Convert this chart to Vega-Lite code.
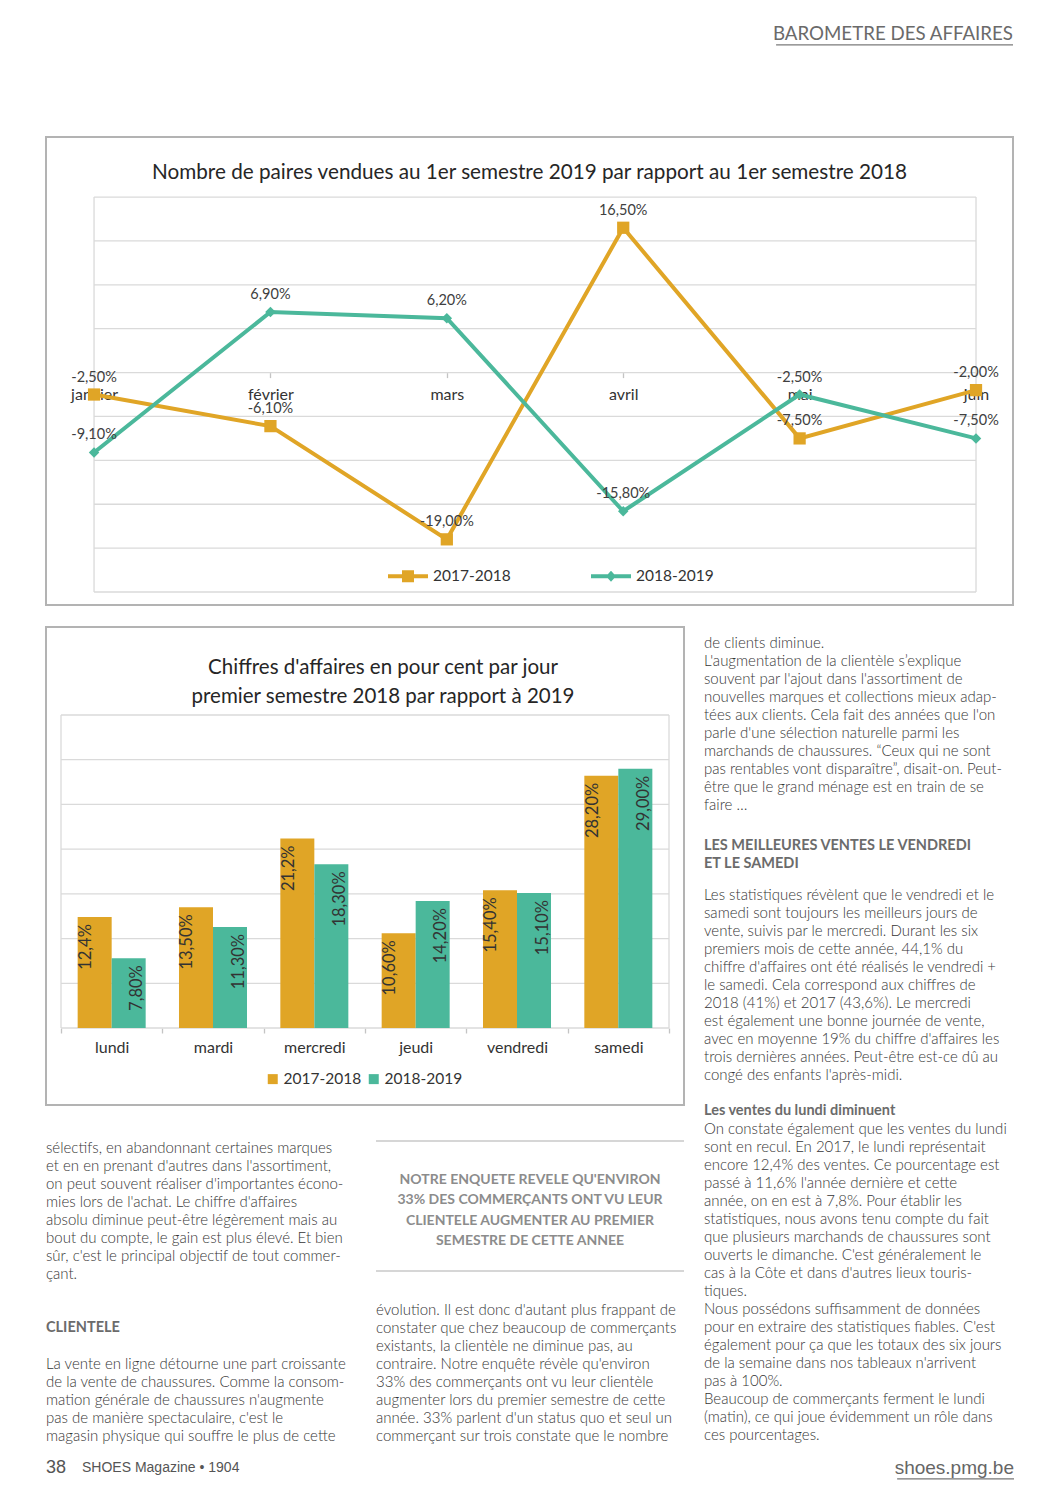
{
  "$schema": "https://vega.github.io/schema/vega-lite/v6.json",
  "background": "white",
  "padding": {"left": 45, "top": 0, "right": 0, "bottom": 0},
  "config": {"font": "Lato", "view": {"stroke": null}},
  "datasets": {
    "paires": [
      {"mois": "janvier", "serie": "2017-2018", "valeur": -2.5, "label": "-2,50%"},
      {"mois": "février", "serie": "2017-2018", "valeur": -6.1, "label": "-6,10%"},
      {"mois": "mars", "serie": "2017-2018", "valeur": -19.0, "label": "-19,00%"},
      {"mois": "avril", "serie": "2017-2018", "valeur": 16.5, "label": "16,50%"},
      {"mois": "mai", "serie": "2017-2018", "valeur": -7.5, "label": "-7,50%"},
      {"mois": "juin", "serie": "2017-2018", "valeur": -2.0, "label": "-2,00%"},
      {"mois": "janvier", "serie": "2018-2019", "valeur": -9.1, "label": "-9,10%"},
      {"mois": "février", "serie": "2018-2019", "valeur": 6.9, "label": "6,90%"},
      {"mois": "mars", "serie": "2018-2019", "valeur": 6.2, "label": "6,20%"},
      {"mois": "avril", "serie": "2018-2019", "valeur": -15.8, "label": "-15,80%"},
      {"mois": "mai", "serie": "2018-2019", "valeur": -2.5, "label": "-2,50%"},
      {"mois": "juin", "serie": "2018-2019", "valeur": -7.5, "label": "-7,50%"}
    ],
    "ventes": [
      {"jour": "lundi", "serie": "2017-2018", "valeur": 12.4, "label": "12,4%"},
      {"jour": "lundi", "serie": "2018-2019", "valeur": 7.8, "label": "7,80%"},
      {"jour": "mardi", "serie": "2017-2018", "valeur": 13.5, "label": "13,50%"},
      {"jour": "mardi", "serie": "2018-2019", "valeur": 11.3, "label": "11,30%"},
      {"jour": "mercredi", "serie": "2017-2018", "valeur": 21.2, "label": "21,2%"},
      {"jour": "mercredi", "serie": "2018-2019", "valeur": 18.3, "label": "18,30%"},
      {"jour": "jeudi", "serie": "2017-2018", "valeur": 10.6, "label": "10,60%"},
      {"jour": "jeudi", "serie": "2018-2019", "valeur": 14.2, "label": "14,20%"},
      {"jour": "vendredi", "serie": "2017-2018", "valeur": 15.4, "label": "15,40%"},
      {"jour": "vendredi", "serie": "2018-2019", "valeur": 15.1, "label": "15,10%"},
      {"jour": "samedi", "serie": "2017-2018", "valeur": 28.2, "label": "28,20%"},
      {"jour": "samedi", "serie": "2018-2019", "valeur": 29.0, "label": "29,00%"}
    ]
  },
  "spacing": 22,
  "bounds": "flush",
  "resolve": {"scale": {"color": "independent", "fill": "independent", "shape": "independent"}, "legend": {"color": "independent", "fill": "independent", "shape": "independent"}},
  "vconcat": [
    {
      "width": 967,
      "height": 115,
      "data": {"values": [{"texte": "BAROMETRE DES AFFAIRES"}]},
      "layer": [
        {
          "mark": {"type": "text", "align": "right", "baseline": "middle", "fontSize": 18.7, "color": "#6a6a6a"},
          "encoding": {
            "x": {"datum": 1, "type": "quantitative", "scale": {"domain": [0, 1]}, "axis": null},
            "y": {"datum": 0.296, "type": "quantitative", "scale": {"domain": [0, 1], "reverse": true}, "axis": null},
            "text": {"field": "texte"}
          }
        },
        {
          "mark": {"type": "rule", "color": "#7a7a7a", "strokeWidth": 1.2},
          "encoding": {
            "x": {"datum": 0.755, "type": "quantitative", "scale": {"domain": [0, 1]}, "axis": null},
            "x2": {"datum": 1},
            "y": {"datum": 0.39, "type": "quantitative", "scale": {"domain": [0, 1], "reverse": true}, "axis": null}
          }
        }
      ]
    },
    {
      "width": 967,
      "height": 468,
      "view": {"stroke": "#b3b3b3", "strokeWidth": 2},
      "title": {"text": "Nombre de paires vendues au 1er semestre 2019 par rapport au 1er semestre 2018", "fontSize": 20.7, "fontWeight": "normal", "color": "#262626", "anchor": "middle", "frame": "group", "offset": -47},
      "layer": [
        {
          "data": {"values": [{"g": 20}, {"g": 15}, {"g": 10}, {"g": 5}, {"g": 0}, {"g": -5}, {"g": -10}, {"g": -15}, {"g": -20}, {"g": -25}]},
          "mark": {"type": "rule", "color": "#dadada", "strokeWidth": 1.3},
          "encoding": {
            "x": {"datum": "janvier", "type": "nominal", "scale": {"type": "point", "domain": ["janvier", "février", "mars", "avril", "mai", "juin"], "padding": 0.241, "align": 0.565}},
            "x2": {"datum": "juin"},
            "y": {"field": "g", "type": "quantitative", "scale": {"domain": [-26.48, 26.84], "nice": false, "zero": false}, "axis": null}
          }
        },
        {
          "data": {"values": [{"mois": "janvier"}, {"mois": "juin"}]},
          "mark": {"type": "rule", "color": "#dadada", "strokeWidth": 1.3},
          "encoding": {
            "x": {"field": "mois", "type": "nominal", "scale": {"type": "point", "domain": ["janvier", "février", "mars", "avril", "mai", "juin"], "padding": 0.241, "align": 0.565}},
            "y": {"datum": -25, "type": "quantitative", "scale": {"domain": [-26.48, 26.84], "nice": false, "zero": false}, "axis": null},
            "y2": {"datum": 20}
          }
        },
        {
          "data": {"name": "paires"},
          "transform": [{"filter": "datum.serie == '2017-2018'"}],
          "mark": {"type": "line", "strokeWidth": 4, "color": "#E0A526"},
          "encoding": {
            "x": {"field": "mois", "type": "nominal", "scale": {"type": "point", "domain": ["janvier", "février", "mars", "avril", "mai", "juin"], "padding": 0.241, "align": 0.565},
                  "axis": {"orient": "bottom", "offset": -232.4, "domain": false, "ticks": true, "tickSize": 5, "tickColor": "#c4c4c4", "tickWidth": 1.3, "labelFontSize": 16, "labelColor": "#333333", "labelPadding": 9, "labelAlign": "center", "labelBaseline": "top", "labelAngle": 0, "title": null, "grid": false}},
            "y": {"field": "valeur", "type": "quantitative", "scale": {"domain": [-26.48, 26.84], "nice": false, "zero": false}, "axis": null},
            "order": {"value": null}
          }
        },
        {
          "data": {"name": "paires"},
          "transform": [{"filter": "datum.serie == '2018-2019'"}],
          "mark": {"type": "line", "strokeWidth": 4, "color": "#4BB89B"},
          "encoding": {
            "x": {"field": "mois", "type": "nominal", "scale": {"type": "point", "domain": ["janvier", "février", "mars", "avril", "mai", "juin"], "padding": 0.241, "align": 0.565}},
            "y": {"field": "valeur", "type": "quantitative", "scale": {"domain": [-26.48, 26.84], "nice": false, "zero": false}, "axis": null},
            "order": {"value": null}
          }
        },
        {
          "data": {"name": "paires"},
          "transform": [{"filter": "datum.serie == '2017-2018'"}],
          "mark": {"type": "point", "shape": "square", "filled": true, "size": 150, "opacity": 1, "color": "#E0A526"},
          "encoding": {
            "x": {"field": "mois", "type": "nominal", "scale": {"type": "point", "domain": ["janvier", "février", "mars", "avril", "mai", "juin"], "padding": 0.241, "align": 0.565}},
            "y": {"field": "valeur", "type": "quantitative", "scale": {"domain": [-26.48, 26.84], "nice": false, "zero": false}, "axis": null}
          }
        },
        {
          "data": {"name": "paires"},
          "transform": [{"filter": "datum.serie == '2018-2019'"}],
          "mark": {"type": "point", "shape": "diamond", "filled": true, "size": 110, "opacity": 1, "color": "#4BB89B"},
          "encoding": {
            "x": {"field": "mois", "type": "nominal", "scale": {"type": "point", "domain": ["janvier", "février", "mars", "avril", "mai", "juin"], "padding": 0.241, "align": 0.565}},
            "y": {"field": "valeur", "type": "quantitative", "scale": {"domain": [-26.48, 26.84], "nice": false, "zero": false}, "axis": null}
          }
        },
        {
          "data": {"name": "paires"},
          "mark": {"type": "text", "dy": -17, "fontSize": 14.5, "color": "#404040"},
          "encoding": {
            "x": {"field": "mois", "type": "nominal", "scale": {"type": "point", "domain": ["janvier", "février", "mars", "avril", "mai", "juin"], "padding": 0.241, "align": 0.565}},
            "y": {"field": "valeur", "type": "quantitative", "scale": {"domain": [-26.48, 26.84], "nice": false, "zero": false}, "axis": null},
            "text": {"field": "label"}
          }
        },
        {
          "data": {"name": "paires"},
          "transform": [{"filter": "false"}],
          "mark": {"type": "point", "filled": true, "opacity": 1},
          "encoding": {
            "x": {"field": "mois", "type": "nominal", "scale": {"type": "point", "domain": ["janvier", "février", "mars", "avril", "mai", "juin"], "padding": 0.241, "align": 0.565}},
            "y": {"field": "valeur", "type": "quantitative", "scale": {"domain": [-26.48, 26.84], "nice": false, "zero": false}, "axis": null},
            "fill": {"field": "serie", "type": "nominal", "scale": {"domain": ["2017-2018", "2018-2019"], "range": ["#E0A526", "#4BB89B"]},
                     "legend": {"title": null, "orient": "none", "legendX": 342, "legendY": 419, "direction": "horizontal", "columns": 2, "columnPadding": 80, "symbolSize": 1600, "labelFontSize": 15.5, "labelColor": "#333333", "symbolStrokeWidth": 0, "labelOffset": 5}},
            "shape": {"field": "serie", "type": "nominal", "scale": {"domain": ["2017-2018", "2018-2019"], "range": ["M-1,-0.1L1,-0.1L1,0.1L-1,0.1Z M-0.3,-0.3L0.3,-0.3L0.3,0.3L-0.3,0.3Z", "M-1,-0.1L1,-0.1L1,0.1L-1,0.1Z M0,-0.28L0.25,0L0,0.28L-0.25,0Z"]},
                      "legend": {"title": null, "orient": "none", "legendX": 342, "legendY": 419, "direction": "horizontal", "columns": 2, "columnPadding": 80, "symbolSize": 1600, "labelFontSize": 15.5, "labelColor": "#333333", "symbolStrokeWidth": 0, "labelOffset": 5}}
          }
        }
      ]
    },
    {
      "spacing": 19,
      "resolve": {"scale": {"color": "independent"}, "legend": {"color": "independent"}},
      "hconcat": [
        {
          "spacing": 20,
          "bounds": "flush",
          "resolve": {"scale": {"color": "independent"}, "legend": {"color": "independent"}},
          "vconcat": [
            {
              "width": 638,
              "height": 478,
              "view": {"stroke": "#b3b3b3", "strokeWidth": 2},
              "title": {"text": ["Chiffres d'affaires en pour cent par jour", "premier semestre 2018 par rapport à 2019"], "fontSize": 20.5, "lineHeight": 29, "fontWeight": "normal", "color": "#262626", "anchor": "middle", "frame": "group", "offset": -80, "dx": 18},
              "resolve": {"scale": {"x": "independent", "xOffset": "independent"}},
              "layer": [
                {
                  "data": {"values": [{"g": 0}, {"g": 5}, {"g": 10}, {"g": 15}, {"g": 20}, {"g": 25}, {"g": 30}, {"g": 35}]},
                  "mark": {"type": "rule", "color": "#dadada", "strokeWidth": 1.3},
                  "encoding": {
                    "x": {"datum": 0, "type": "quantitative", "scale": {"domain": [-0.02467, 1.02467], "nice": false, "zero": false}, "axis": null},
                    "x2": {"datum": 1},
                    "y": {"field": "g", "type": "quantitative", "scale": {"domain": [-8.61, 44.84], "nice": false, "zero": false}, "axis": null}
                  }
                },
                {
                  "data": {"values": [{"c": 0}, {"c": 1}]},
                  "mark": {"type": "rule", "color": "#dadada", "strokeWidth": 1.3},
                  "encoding": {
                    "x": {"field": "c", "type": "quantitative", "scale": {"domain": [-0.02467, 1.02467], "nice": false, "zero": false}, "axis": null},
                    "y": {"datum": 0, "type": "quantitative", "scale": {"domain": [-8.61, 44.84], "nice": false, "zero": false}, "axis": null},
                    "y2": {"datum": 35}
                  }
                },
                {
                  "data": {"name": "ventes"},
                  "mark": {"type": "bar"},
                  "encoding": {
                    "x": {"field": "jour", "type": "nominal", "scale": {"type": "band", "domain": ["lundi", "mardi", "mercredi", "jeudi", "vendredi", "samedi"], "paddingInner": 0, "paddingOuter": 0.148},
                          "axis": {"orient": "bottom", "offset": -77, "domain": false, "tickBand": "extent", "ticks": true, "tickSize": 5, "tickColor": "#c4c4c4", "tickWidth": 1.3, "labelFontSize": 16, "labelColor": "#333333", "labelPadding": 6, "labelAlign": "center", "labelBaseline": "top", "title": null, "labelAngle": 0, "grid": false}},
                    "xOffset": {"field": "serie", "type": "nominal", "scale": {"domain": ["2017-2018", "2018-2019"], "paddingInner": 0, "paddingOuter": 0.49}},
                    "y": {"field": "valeur", "type": "quantitative", "stack": null, "scale": {"domain": [-8.61, 44.84], "nice": false, "zero": false}, "axis": null},
                    "color": {"field": "serie", "type": "nominal", "scale": {"domain": ["2017-2018", "2018-2019"], "range": ["#E0A526", "#4BB89B"]},
                              "legend": {"title": null, "orient": "none", "legendX": 219, "legendY": 444, "direction": "horizontal", "columns": 2, "columnPadding": 4, "symbolType": "square", "symbolSize": 100, "labelFontSize": 15.5, "labelColor": "#333333", "labelOffset": 3, "symbolStrokeWidth": 0}}
                  }
                },
                {
                  "data": {"name": "ventes"},
                  "mark": {"type": "text", "angle": 270, "align": "right", "baseline": "middle", "dx": -7, "fontSize": 16.5, "color": "#333333"},
                  "encoding": {
                    "x": {"field": "jour", "type": "nominal", "scale": {"type": "band", "domain": ["lundi", "mardi", "mercredi", "jeudi", "vendredi", "samedi"], "paddingInner": 0, "paddingOuter": 0.148}, "axis": null},
                    "xOffset": {"field": "serie", "type": "nominal", "scale": {"domain": ["2017-2018", "2018-2019"], "paddingInner": 0, "paddingOuter": 0.49}},
                    "y": {"field": "valeur", "type": "quantitative", "stack": null, "scale": {"domain": [-8.61, 44.84], "nice": false, "zero": false}, "axis": null},
                    "text": {"field": "label"}
                  }
                }
              ]
            },
            {
              "spacing": 20,
              "bounds": "flush",
              "hconcat": [
                {
                  "width": 310,
                  "height": 355,
                  "layer": [
                    {
                      "data": {"values": [
                        {"ligne": 0, "texte": "sélectifs, en abandonnant certaines marques"},
                        {"ligne": 1, "texte": "et en en prenant d'autres dans l'assortiment,"},
                        {"ligne": 2, "texte": "on peut souvent réaliser d'importantes écono-"},
                        {"ligne": 3, "texte": "mies lors de l'achat. Le chiffre d'affaires"},
                        {"ligne": 4, "texte": "absolu diminue peut-être légèrement mais au"},
                        {"ligne": 5, "texte": "bout du compte, le gain est plus élevé. Et bien"},
                        {"ligne": 6, "texte": "sûr, c'est le principal objectif de tout commer-"},
                        {"ligne": 7, "texte": "çant."},
                        {"ligne": 12, "texte": "La vente en ligne détourne une part croissante"},
                        {"ligne": 13, "texte": "de la vente de chaussures. Comme la consom-"},
                        {"ligne": 14, "texte": "mation générale de chaussures n'augmente"},
                        {"ligne": 15, "texte": "pas de manière spectaculaire, c'est le"},
                        {"ligne": 16, "texte": "magasin physique qui souffre le plus de cette"}
                      ]},
                      "mark": {"type": "text", "align": "left", "baseline": "middle", "fontSize": 15, "fontWeight": 300, "color": "#363636"},
                      "encoding": {
                        "x": {"datum": 0, "type": "quantitative", "scale": {"domain": [0, 1]}, "axis": null},
                        "y": {"field": "ligne", "type": "quantitative", "scale": {"domain": [-1.2778, 18.444], "reverse": true, "nice": false, "zero": false}, "axis": null},
                        "text": {"field": "texte"}
                      }
                    },
                    {
                      "data": {"values": [{"ligne": 10, "texte": "CLIENTELE"}]},
                      "mark": {"type": "text", "align": "left", "baseline": "middle", "fontSize": 14.5, "fontWeight": "bold", "color": "#6b6b6b"},
                      "encoding": {
                        "x": {"datum": 0, "type": "quantitative", "scale": {"domain": [0, 1]}, "axis": null},
                        "y": {"field": "ligne", "type": "quantitative", "scale": {"domain": [-1.2778, 18.444], "reverse": true, "nice": false, "zero": false}, "axis": null},
                        "text": {"field": "texte"}
                      }
                    },
                    {
                      "data": {"values": [{"ligne": 17.78, "texte": "38"}]},
                      "mark": {"type": "text", "align": "left", "baseline": "middle", "fontSize": 18, "font": "Liberation Sans, Arial, sans-serif", "color": "#555555"},
                      "encoding": {
                        "x": {"datum": 0, "type": "quantitative", "scale": {"domain": [0, 1]}, "axis": null},
                        "y": {"field": "ligne", "type": "quantitative", "scale": {"domain": [-1.2778, 18.444], "reverse": true, "nice": false, "zero": false}, "axis": null},
                        "text": {"field": "texte"}
                      }
                    },
                    {
                      "data": {"values": [{"ligne": 17.78, "texte": "SHOES Magazine • 1904"}]},
                      "mark": {"type": "text", "align": "left", "baseline": "middle", "dx": 36, "fontSize": 14, "font": "Liberation Sans, Arial, sans-serif", "color": "#555555"},
                      "encoding": {
                        "x": {"datum": 0, "type": "quantitative", "scale": {"domain": [0, 1]}, "axis": null},
                        "y": {"field": "ligne", "type": "quantitative", "scale": {"domain": [-1.2778, 18.444], "reverse": true, "nice": false, "zero": false}, "axis": null},
                        "text": {"field": "texte"}
                      }
                    }
                  ]
                },
                {
                  "width": 308,
                  "height": 355,
                  "layer": [
                    {
                      "data": {"values": [{"ligne": -0.39}, {"ligne": 6.83}]},
                      "mark": {"type": "rule", "color": "#c8c8c8", "strokeWidth": 1.5},
                      "encoding": {
                        "x": {"datum": 0, "type": "quantitative", "scale": {"domain": [0, 1]}, "axis": null},
                        "x2": {"datum": 1},
                        "y": {"field": "ligne", "type": "quantitative", "scale": {"domain": [-1.2778, 18.444], "reverse": true, "nice": false, "zero": false}, "axis": null}
                      }
                    },
                    {
                      "data": {"values": [
                        {"ligne": 1.78, "texte": "NOTRE ENQUETE REVELE QU'ENVIRON"},
                        {"ligne": 2.89, "texte": "33% DES COMMERÇANTS ONT VU LEUR"},
                        {"ligne": 4.06, "texte": "CLIENTELE AUGMENTER AU PREMIER"},
                        {"ligne": 5.17, "texte": "SEMESTRE DE CETTE ANNEE"}
                      ]},
                      "mark": {"type": "text", "align": "center", "baseline": "middle", "fontSize": 14, "fontWeight": "bold", "color": "#8c8c8c"},
                      "encoding": {
                        "x": {"datum": 0.5, "type": "quantitative", "scale": {"domain": [0, 1]}, "axis": null},
                        "y": {"field": "ligne", "type": "quantitative", "scale": {"domain": [-1.2778, 18.444], "reverse": true, "nice": false, "zero": false}, "axis": null},
                        "text": {"field": "texte"}
                      }
                    },
                    {
                      "data": {"values": [
                        {"ligne": 9, "texte": "évolution. Il est donc d'autant plus frappant de"},
                        {"ligne": 10, "texte": "constater que chez beaucoup de commerçants"},
                        {"ligne": 11, "texte": "existants, la clientèle ne diminue pas, au"},
                        {"ligne": 12, "texte": "contraire. Notre enquête révèle qu'environ"},
                        {"ligne": 13, "texte": "33% des commerçants ont vu leur clientèle"},
                        {"ligne": 14, "texte": "augmenter lors du premier semestre de cette"},
                        {"ligne": 15, "texte": "année. 33% parlent d'un status quo et seul un"},
                        {"ligne": 16, "texte": "commerçant sur trois constate que le nombre"}
                      ]},
                      "mark": {"type": "text", "align": "left", "baseline": "middle", "fontSize": 15, "fontWeight": 300, "color": "#363636"},
                      "encoding": {
                        "x": {"datum": 0, "type": "quantitative", "scale": {"domain": [0, 1]}, "axis": null},
                        "y": {"field": "ligne", "type": "quantitative", "scale": {"domain": [-1.2778, 18.444], "reverse": true, "nice": false, "zero": false}, "axis": null},
                        "text": {"field": "texte"}
                      }
                    }
                  ]
                }
              ]
            }
          ]
        },
        {
          "width": 310,
          "height": 853,
          "layer": [
            {
              "data": {"values": [
                {"ligne": 0, "texte": "de clients diminue."},
                {"ligne": 1, "texte": "L'augmentation de la clientèle s’explique"},
                {"ligne": 2, "texte": "souvent par l'ajout dans l'assortiment de"},
                {"ligne": 3, "texte": "nouvelles marques et collections mieux adap-"},
                {"ligne": 4, "texte": "tées aux clients. Cela fait des années que l'on"},
                {"ligne": 5, "texte": "parle d'une sélection naturelle parmi les"},
                {"ligne": 6, "texte": "marchands de chaussures. “Ceux qui ne sont"},
                {"ligne": 7, "texte": "pas rentables vont disparaître”, disait-on. Peut-"},
                {"ligne": 8, "texte": "être que le grand ménage est en train de se"},
                {"ligne": 9, "texte": "faire …"},
                {"ligne": 14, "texte": "Les statistiques révèlent que le vendredi et le"},
                {"ligne": 15, "texte": "samedi sont toujours les meilleurs jours de"},
                {"ligne": 16, "texte": "vente, suivis par le mercredi. Durant les six"},
                {"ligne": 17, "texte": "premiers mois de cette année, 44,1% du"},
                {"ligne": 18, "texte": "chiffre d'affaires ont été réalisés le vendredi +"},
                {"ligne": 19, "texte": "le samedi. Cela correspond aux chiffres de"},
                {"ligne": 20, "texte": "2018 (41%) et 2017 (43,6%). Le mercredi"},
                {"ligne": 21, "texte": "est également une bonne journée de vente,"},
                {"ligne": 22, "texte": "avec en moyenne 19% du chiffre d'affaires les"},
                {"ligne": 23, "texte": "trois dernières années. Peut-être est-ce dû au"},
                {"ligne": 24, "texte": "congé des enfants l'après-midi."},
                {"ligne": 27, "texte": "On constate également que les ventes du lundi"},
                {"ligne": 28, "texte": "sont en recul. En 2017, le lundi représentait"},
                {"ligne": 29, "texte": "encore 12,4% des ventes. Ce pourcentage est"},
                {"ligne": 30, "texte": "passé à 11,6% l'année dernière et cette"},
                {"ligne": 31, "texte": "année, on en est à 7,8%. Pour établir les"},
                {"ligne": 32, "texte": "statistiques, nous avons tenu compte du fait"},
                {"ligne": 33, "texte": "que plusieurs marchands de chaussures sont"},
                {"ligne": 34, "texte": "ouverts le dimanche. C'est généralement le"},
                {"ligne": 35, "texte": "cas à la Côte et dans d'autres lieux touris-"},
                {"ligne": 36, "texte": "tiques."},
                {"ligne": 37, "texte": "Nous possédons suffisamment de données"},
                {"ligne": 38, "texte": "pour en extraire des statistiques fiables. C'est"},
                {"ligne": 39, "texte": "également pour ça que les totaux des six jours"},
                {"ligne": 40, "texte": "de la semaine dans nos tableaux n'arrivent"},
                {"ligne": 41, "texte": "pas à 100%."},
                {"ligne": 42, "texte": "Beaucoup de commerçants ferment le lundi"},
                {"ligne": 43, "texte": "(matin), ce qui joue évidemment un rôle dans"},
                {"ligne": 44, "texte": "ces pourcentages."}
              ]},
              "mark": {"type": "text", "align": "left", "baseline": "middle", "fontSize": 15, "fontWeight": 300, "color": "#363636"},
              "encoding": {
                "x": {"datum": 0, "type": "quantitative", "scale": {"domain": [0, 1]}, "axis": null},
                "y": {"field": "ligne", "type": "quantitative", "scale": {"domain": [-0.8889, 46.5], "reverse": true, "nice": false, "zero": false}, "axis": null},
                "text": {"field": "texte"}
              }
            },
            {
              "data": {"values": [
                {"ligne": 11.3, "texte": "LES MEILLEURES VENTES LE VENDREDI"},
                {"ligne": 12.3, "texte": "ET LE SAMEDI"},
                {"ligne": 26, "texte": "Les ventes du lundi diminuent"}
              ]},
              "mark": {"type": "text", "align": "left", "baseline": "middle", "fontSize": 14.5, "fontWeight": "bold", "color": "#6b6b6b"},
              "encoding": {
                "x": {"datum": 0, "type": "quantitative", "scale": {"domain": [0, 1]}, "axis": null},
                "y": {"field": "ligne", "type": "quantitative", "scale": {"domain": [-0.8889, 46.5], "reverse": true, "nice": false, "zero": false}, "axis": null},
                "text": {"field": "texte"}
              }
            },
            {
              "data": {"values": [{"ligne": 45.83, "texte": "shoes.pmg.be"}]},
              "mark": {"type": "text", "align": "right", "baseline": "middle", "fontSize": 19, "font": "Liberation Sans Narrow, Liberation Sans, sans-serif", "color": "#666666"},
              "encoding": {
                "x": {"datum": 1, "type": "quantitative", "scale": {"domain": [0, 1]}, "axis": null},
                "y": {"field": "ligne", "type": "quantitative", "scale": {"domain": [-0.8889, 46.5], "reverse": true, "nice": false, "zero": false}, "axis": null},
                "text": {"field": "texte"}
              }
            },
            {
              "data": {"values": [{"ligne": 46.44}]},
              "mark": {"type": "rule", "color": "#777777", "strokeWidth": 1.2},
              "encoding": {
                "x": {"datum": 0.623, "type": "quantitative", "scale": {"domain": [0, 1]}, "axis": null},
                "x2": {"datum": 1},
                "y": {"field": "ligne", "type": "quantitative", "scale": {"domain": [-0.8889, 46.5], "reverse": true, "nice": false, "zero": false}, "axis": null}
              }
            }
          ]
        }
      ]
    }
  ]
}
